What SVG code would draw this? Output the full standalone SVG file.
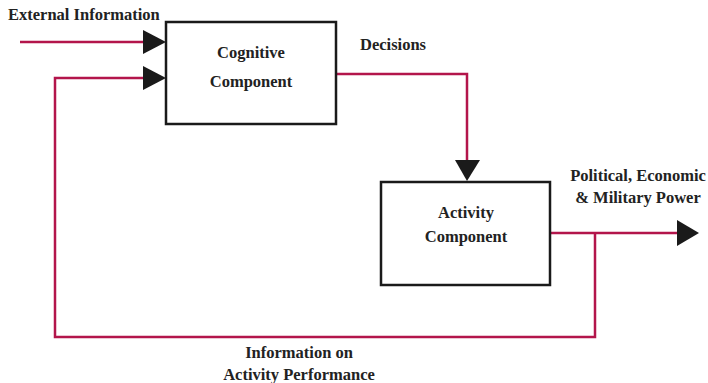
<svg xmlns="http://www.w3.org/2000/svg" width="708" height="383" viewBox="0 0 708 383">
<style>
text{font-family:"Liberation Serif","DejaVu Serif",serif;font-weight:bold;font-size:16.5px;fill:#222}
.box{fill:#fff;stroke:#1a1a1a;stroke-width:2.5}
.wire{fill:none;stroke:#b3154b;stroke-width:2.5}
.head{fill:#1a1a1a}
</style>
<rect width="708" height="383" fill="#fff"/>
<g id="connectors">
<polyline class="wire" points="20,42 146,42"/>
<polyline class="wire" points="146,78 55,78 55,337 595,337 595,233"/>
<polyline class="wire" points="337,74 467,74 467,162"/>
<polyline class="wire" points="550,233 678,233"/>
<polygon class="head" points="143,30 166,42 143,54"/>
<polygon class="head" points="143,66 166,78 143,90"/>
<polygon class="head" points="455,160 467,181 480,160"/>
<polygon class="head" points="677,220 699,233 677,246"/>
</g>
<g id="cognitive">
<rect class="box" x="166" y="22" width="170" height="102"/>
<text x="251" y="58" text-anchor="middle">Cognitive</text>
<text x="251" y="87" text-anchor="middle">Component</text>
</g>
<g id="activity">
<rect class="box" x="381" y="182" width="169" height="103"/>
<text x="466" y="218" text-anchor="middle">Activity</text>
<text x="466" y="242" text-anchor="middle">Component</text>
</g>
<g id="labels">
<text x="8" y="20">External Information</text>
<text x="360" y="50">Decisions</text>
<text x="638" y="181" text-anchor="middle">Political, Economic</text>
<text x="638" y="203" text-anchor="middle">&amp; Military Power</text>
<text x="299" y="358" text-anchor="middle">Information on</text>
<text x="299" y="380" text-anchor="middle">Activity Performance</text>
</g>
</svg>
